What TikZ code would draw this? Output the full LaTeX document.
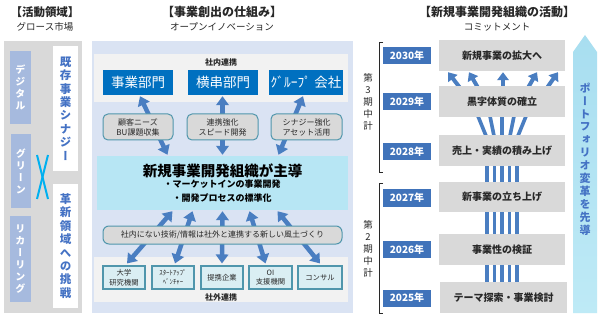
\documentclass[tikz,border=0pt]{standalone}
\usepackage{fontspec}
\setmainfont{Noto Sans CJK JP}
\newfontfamily\vfont[RawFeature=+vert]{Noto Sans CJK JP}
\usetikzlibrary{arrows.meta,calc}
\definecolor{panelgrey}{RGB}{217,217,217}
\definecolor{barblue}{RGB}{166,186,222}
\definecolor{textblue}{RGB}{68,114,196}
\definecolor{panelblue}{RGB}{218,227,243}
\definecolor{lightgrey}{RGB}{242,242,242}
\definecolor{deptblue}{RGB}{0,112,192}
\definecolor{arrowblue}{RGB}{74,126,193}
\definecolor{tealborder}{RGB}{80,150,172}
\definecolor{lightcyan}{RGB}{218,238,243}
\definecolor{maincyan}{RGB}{183,230,244}
\definecolor{yearblue}{RGB}{64,115,186}
\definecolor{xcyan}{RGB}{0,176,240}
\definecolor{boxgrey}{RGB}{217,217,217}
\definecolor{darktext}{RGB}{40,40,40}
\pgfdeclarelayer{back}
\pgfdeclarelayer{bg}
\pgfsetlayers{back,bg,main}
\begin{document}
\begin{tikzpicture}[x=1pt,y=-1pt,
  title/.style={font=\fontsize{12}{14}\selectfont\bfseries, inner sep=0, text=darktext},
  sub/.style={font=\fontsize{9.5}{11}\selectfont, inner sep=0, text=darktext},
  panel/.style={draw=none, inner sep=0},
  bar/.style={fill=barblue, inner sep=0, text=white, align=center, font=\vfont\fontsize{10}{12}\selectfont\bfseries},
  wbox/.style={fill=white, inner sep=0, text=textblue, align=center, font=\vfont\fontsize{11.5}{13.4}\selectfont\bfseries},
  dept/.style={fill=deptblue, inner sep=0, text=white, font=\fontsize{13.5}{15}\selectfont, minimum height=25},
  gbox/.style={fill=boxgrey, draw=tealborder, line width=1, rounded corners=5, inner sep=0, align=center, font=\fontsize{8}{10}\selectfont, text=darktext, minimum height=26},
  cbox/.style={fill=lightcyan, draw=tealborder, line width=1.1, inner sep=0, align=center, font=\fontsize{7.3}{9.5}\selectfont, text=darktext, minimum height=23},
  dbl/.style={arrowblue, line width=4.5, {Triangle[width=12.5,length=9]}-{Triangle[width=12.5,length=9]}},
  sgl/.style={arrowblue, line width=4, -{Triangle[width=11.5,length=8]}},
  thin/.style={arrowblue, line width=3.6},
  rbox/.style={fill=boxgrey, inner sep=0, font=\fontsize{10}{12}\selectfont\bfseries, text=darktext, minimum height=31},
  ybox/.style={fill=yearblue, inner sep=0, font=\fontsize{10}{12}\selectfont\bfseries, text=white, minimum width=48, minimum height=17},
  period/.style={inner sep=0, align=center, font=\fontsize{9.5}{12}\selectfont, text=darktext},
  bracket/.style={draw=darktext, line width=0.8}
]
\useasboundingbox (0,0) rectangle (600,318);
\begin{pgfonlayer}{back}
\fill[white] (0,0) rectangle (600,318);
\end{pgfonlayer}

% ---------- left panel ----------
\node[title, font=\fontsize{11.5}{14}\selectfont\bfseries] (t1) at (45,12) {【活動領域】};
\node[sub] (s1) at (45,27) {グロース市場};
\begin{pgfonlayer}{back}
\node[panel, fill=panelgrey, minimum width=78, minimum height=272] (lp) at (43,177) {};
\end{pgfonlayer}
\node[bar, minimum width=21, minimum height=73] (digi) at (20.5,87.5) {デ\\ジ\\タ\\ル};
\node[bar, minimum width=20, minimum height=74] (green) at (21,171) {グ\\リ\\ー\\ン};
\node[bar, minimum width=21, minimum height=86] (recur) at (20.5,259) {リ\\カ\\ー\\リ\\ン\\グ};
\node[wbox, minimum width=25, minimum height=125] (kizon) at (65.5,108.5) {既\\存\\事\\業\\シ\\ナ\\ジ\\ー};
\node[wbox, minimum width=25, minimum height=124] (kakus) at (65.5,246) {革\\新\\領\\域\\へ\\の\\挑\\戦};
\draw[xcyan, line width=2] (37,155) -- (48,199);
\draw[xcyan, line width=2] (48,155) -- (37,199);

% ---------- middle panel ----------
\node[title] (t2) at (222,12) {【事業創出の仕組み】};
\node[sub] (s2) at (222,27) {オープンイノベーション};
\begin{pgfonlayer}{back}
\node[panel, fill=panelblue, minimum width=261, minimum height=272] (mp) at (222.5,177) {};
\node[panel, fill=lightgrey, minimum width=254, minimum height=48] (inner) at (221,78) {};
\node[panel, fill=lightgrey, minimum width=254, minimum height=45] (outer) at (221,279.5) {};
\end{pgfonlayer}
\node[inner sep=0, font=\fontsize{8}{10}\selectfont\bfseries, text=darktext] (naibu) at (221,62) {社内連携};
\node[inner sep=0, font=\fontsize{8}{10}\selectfont\bfseries, text=darktext] (gaibu) at (221,297) {社外連携};

\node[dept, minimum width=70] (jb) at (138,82.5) {事業部門};
\node[dept, minimum width=70] (yk) at (223,82.5) {横串部門};
\node[dept, minimum width=74] (gr) at (306,82.5) {ｸﾞﾙｰﾌﾟ 会社};

\node[gbox, minimum width=70] (g1) at (138,127) {顧客ニーズ\\BU課題収集};
\node[gbox, minimum width=71] (g2) at (222.5,127) {連携強化\\スピード開発};
\node[gbox, minimum width=71] (g3) at (306.5,127) {シナジー強化\\アセット活用};

\node[fill=maincyan, inner sep=0, minimum width=251, minimum height=54] (main) at (222.5,183) {};
\node[inner sep=0, font=\fontsize{14.5}{16}\selectfont\bfseries, text=black] (mtitle) at (222.5,171) {新規事業開発組織が主導};
\node[inner sep=0, align=center, font=\fontsize{9}{13.5}\selectfont\bfseries, text=black] (mbul) at (222,191) {・マーケットインの事業開発\\・開発プロセスの標準化};

\node[gbox, minimum width=239, minimum height=18, rounded corners=6] (fudo) at (222.5,235) {社内にない技術/情報は社外と連携する新しい風土づくり};

\node[cbox, minimum width=42] (b1) at (124,277.5) {大学\\研究機関};
\node[cbox, minimum width=42, font=\fontsize{6.8}{9.5}\selectfont] (b2) at (173,277.5) {ｽﾀｰﾄｱｯﾌﾟ\\ﾍﾞﾝﾁｬｰ};
\node[cbox, minimum width=42] (b3) at (222,277.5) {提携企業};
\node[cbox, minimum width=43] (b4) at (270.5,277.5) {OI\\支援機関};
\node[cbox, minimum width=44] (b5) at (320,277.5) {コンサル};

\begin{pgfonlayer}{bg}
\draw[dbl] ($(jb.south)+(2,1)$) -- ($(main.north)+(-55,-1)$);
\draw[dbl] ($(yk.south)+(-0.5,1)$) -- ($(main.north)+(0,-1)$);
\draw[dbl] ($(gr.south)+(-3,1)$) -- ($(main.north)+(56,-1)$);
\draw[dbl] ($(main.south)+(-50,1)$) -- ($(b1.north)+(3,-2)$);
\draw[dbl] ($(main.south)+(-30,1)$) -- ($(b2.north)+(2,-2)$);
\draw[dbl] ($(main.south)+(0,1)$) -- ($(b3.north)+(0,-2)$);
\draw[dbl] ($(main.south)+(27,1)$) -- ($(b4.north)+(-5,-2)$);
\draw[dbl] ($(main.south)+(55,1)$) -- ($(b5.north)+(0,-2)$);
\end{pgfonlayer}

% ---------- right panel ----------
\node[title] (t3) at (497,12) {【新規事業開発組織の活動】};
\node[sub] (s3) at (497,27) {コミットメント};

\node[rbox, minimum width=126] (r30) at (502,55.5) {新規事業の拡大へ};
\node[rbox, minimum width=126] (r29) at (502,101.5) {黒字体質の確立};
\node[rbox, minimum width=126] (r28) at (502,150.5) {売上・実績の積み上げ};
\node[rbox, minimum width=126, minimum height=30] (r27) at (502,197) {新事業の立ち上げ};
\node[rbox, minimum width=126] (r26) at (502,249.5) {事業性の検証};
\node[rbox, minimum width=127] (r25) at (503.5,297.5) {テーマ探索・事業検討};

\node[ybox] (y30) at (407,55.5) {2030年};
\node[ybox] (y29) at (407,101.5) {2029年};
\node[ybox] (y28) at (407,151.5) {2028年};
\node[ybox] (y27) at (407,198) {2027年};
\node[ybox] (y26) at (407,249.5) {2026年};
\node[ybox] (y25) at (407,298) {2025年};

\begin{pgfonlayer}{bg}
\foreach \a/\b in {-42/-54,-24/-33,1/1,26/35,45/56}
  \draw[sgl] ($(r29.north)+(\a,2)$) -- ($(r30.south)+(\b,1)$);
\foreach \a/\b in {-16/-24,-8/-12,0/0,8/12,16/24}
  \draw[thin] ($(r28.north)+(\a,1)$) -- ($(r29.south)+(\b,-1)$);
\foreach \a in {-15,-7.5,0,7.5,15}{
  \draw[arrowblue, line width=3.3] ($(r28.south)+(\a,-1)$) -- ($(r27.north)+(\a,1)$);
  \draw[arrowblue, line width=3.3] ($(r27.south)+(\a,-1)$) -- ($(r26.north)+(\a,1)$);
  \draw[arrowblue, line width=3.3] ($(r26.south)+(\a,-1)$) -- ($(r25.north)+(\a-1.5,1)$);
}
\end{pgfonlayer}

\draw[bracket] (383,42) -- (379,42) -- (379,172) -- (383,172);
\draw[bracket] (383,183) -- (379,183) -- (379,313) -- (383,313);
\node[period] (p3) at (368,102) {第\\3\\期\\中\\計};
\node[period] (p2) at (368,249) {第\\2\\期\\中\\計};

\shade[top color={rgb,255:red,168;green,222;blue,240}, bottom color={rgb,255:red,190;green,234;blue,246}]
  (573,313) -- (573,52) -- (585,35) -- (597,52) -- (597,313) -- cycle;
\node[inner sep=0, align=center, text=textblue, font=\vfont\fontsize{11}{12.9}\selectfont\bfseries] (port) at (585,159) {ポ\\ー\\ト\\フ\\ォ\\リ\\オ\\変\\革\\を\\先\\導};
\end{tikzpicture}
\end{document}
